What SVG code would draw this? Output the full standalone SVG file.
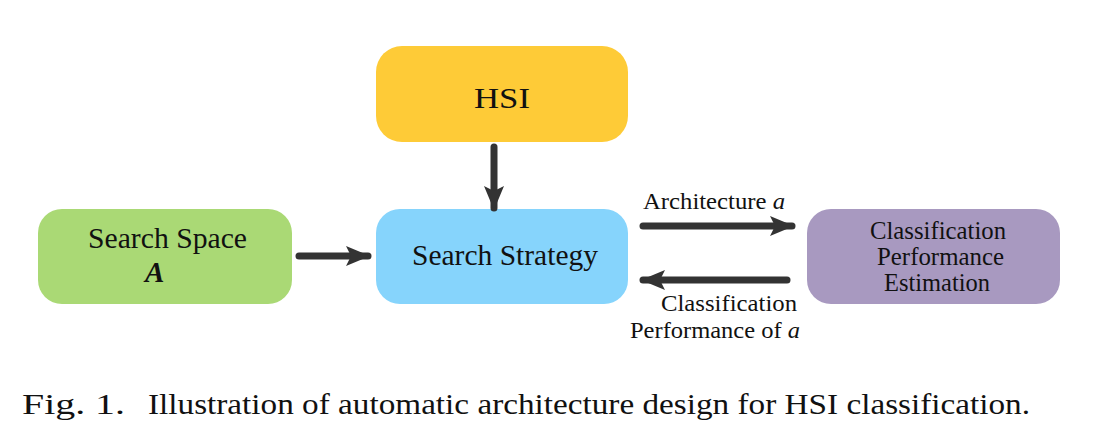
<svg xmlns="http://www.w3.org/2000/svg" width="1120" height="446" viewBox="0 0 1120 446">
<style>
text{fill:#111}
.c{stroke:#333;stroke-width:7;stroke-linecap:round;fill:none}
.big{font-size:29px}
.mid{font-size:24.5px}
.lab{font-size:24px}
</style>
<defs>
<marker id="ah" markerUnits="userSpaceOnUse" markerWidth="24" markerHeight="24" refX="22" refY="12" orient="auto">
<path d="M0,2 L24,12 L0,22 L5,12 Z" fill="#333"/>
</marker>
</defs>
<rect width="1120" height="446" fill="#fff"/>
<g font-family="Liberation Serif, Times New Roman, serif">
<g id="hsi">
<rect x="376" y="46" width="252" height="96" rx="26" fill="#FECB37"/>
<text class="big" x="474" y="108" textLength="56" lengthAdjust="spacingAndGlyphs">HSI</text>
</g>
<g id="strategy">
<rect x="376" y="209" width="252" height="95" rx="24" fill="#86D4FC"/>
<text class="big" x="412" y="265" textLength="186" lengthAdjust="spacingAndGlyphs">Search Strategy</text>
</g>
<g id="space">
<rect x="38" y="209" width="254" height="95" rx="24" fill="#AAD975"/>
<text class="big" x="88" y="248" textLength="159" lengthAdjust="spacingAndGlyphs">Search Space</text>
<text class="big" x="145" y="282" font-weight="bold" font-style="italic">A</text>
</g>
<g id="estimation">
<rect x="807" y="209" width="253" height="95" rx="24" fill="#A899C0"/>
<text class="mid" x="870" y="239" textLength="136" lengthAdjust="spacingAndGlyphs">Classification</text>
<text class="mid" x="877" y="265" textLength="127" lengthAdjust="spacingAndGlyphs">Performance</text>
<text class="mid" x="884" y="291" textLength="106" lengthAdjust="spacingAndGlyphs">Estimation</text>
</g>
<g id="connectors">
<line class="c" x1="494" y1="147" x2="494" y2="208" marker-end="url(#ah)"/>
<line class="c" x1="299" y1="256" x2="368" y2="256" marker-end="url(#ah)"/>
<line class="c" x1="643" y1="226" x2="792" y2="226" marker-end="url(#ah)"/>
<line class="c" x1="787" y1="280" x2="643" y2="280" marker-end="url(#ah)"/>
</g>
<g id="labels">
<text class="lab" x="643" y="209" textLength="142" lengthAdjust="spacingAndGlyphs">Architecture <tspan font-style="italic">a</tspan></text>
<text class="lab" x="661" y="311" textLength="136" lengthAdjust="spacingAndGlyphs">Classification</text>
<text class="lab" x="630" y="338" textLength="170" lengthAdjust="spacingAndGlyphs">Performance of <tspan font-style="italic">a</tspan></text>
</g>
<g id="caption">
<text x="22" y="414" font-size="29" textLength="103" lengthAdjust="spacingAndGlyphs">Fig. 1.</text>
<text x="148" y="414" font-size="29" textLength="882" lengthAdjust="spacingAndGlyphs">Illustration of automatic architecture design for HSI classification.</text>
</g>
</g>
</svg>
